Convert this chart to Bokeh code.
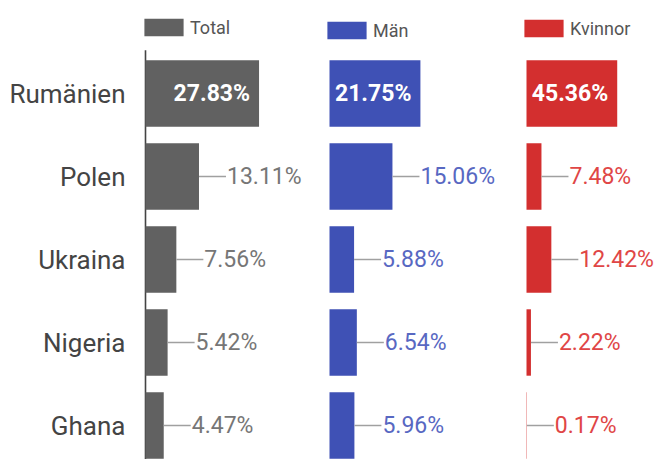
from bokeh.plotting import figure
from bokeh.models import Range1d, FixedTicker, Legend, LegendItem, ColumnDataSource
from bokeh.core.properties import value
from bokeh.embed import file_html
from bokeh.resources import INLINE

# ---- data ----
countries = ["Rumänien", "Polen", "Ukraina", "Nigeria", "Ghana"]
total = [27.83, 13.11, 7.56, 5.42, 4.47]
men = [21.75, 15.06, 5.88, 6.54, 5.96]
women = [45.36, 7.48, 12.42, 2.22, 0.17]
series_names = ["Total", "Män", "Kvinnor"]

# ---- style / layout ----
FONT = "Roboto"
W, H = 654, 459
FRAME_LEFT = 135            # canvas px where the plotting frame starts
FRAME_W = W - FRAME_LEFT
ROW_PX = 83                 # px per category row
FIRST_ROW_PX = 93           # px from frame top to first row centre
BAR_H = 0.8
AXIS_TOP = -0.52

# per panel: range name, values, bar colour, label colour, zero offset (px from frame left), px per %, legend pos
panels = [
    ("default", total, "#616161", "#767676", 10, 4.08, (4, 421)),
    ("men", men, "#3f51b5", "#5868c2", 194, 4.18, (187, 418)),
    ("women", women, "#d32f2f", "#e04646", 391, 2.0, (384, 420)),
]

def xr(zero_px, ppu):
    start = -zero_px / ppu
    return Range1d(start=start, end=start + FRAME_W / ppu)

y_end = -FIRST_ROW_PX / ROW_PX
y_start = y_end + H / ROW_PX

p = figure(width=W, height=H, output_backend="svg", toolbar_location=None,
           x_range=xr(panels[0][4], panels[0][5]),
           y_range=Range1d(start=y_start, end=y_end),
           x_axis_location=None, min_border_left=FRAME_LEFT,
           min_border_right=0, min_border_top=0, min_border_bottom=0)
p.extra_x_ranges = {name: xr(z, ppu) for (name, _, _, _, z, ppu, _) in panels[1:]}
p.outline_line_color = None
p.xgrid.grid_line_color = None
p.ygrid.grid_line_color = None
p.background_fill_color = "white"

ys = list(range(len(countries)))
yax = p.yaxis[0]
yax.ticker = FixedTicker(ticks=ys)
yax.major_label_overrides = {i: c for i, c in zip(ys, countries)}
yax.major_label_text_font = FONT
yax.major_label_text_font_size = "26px"
yax.major_label_text_color = "#444444"
yax.axis_line_color = None
yax.major_tick_line_color = None
yax.minor_tick_line_color = None
yax.major_tick_out = 0
yax.major_tick_in = 0
yax.major_label_standoff = 10

# baseline of the Total panel
p.segment(x0=[0], y0=[AXIS_TOP], x1=[0], y1=[y_start], line_color="#444444", line_width=1.6)

for (name, vals, col, lcol, z, ppu, lpos), label in zip(panels, series_names):
    src = ColumnDataSource(dict(y=ys, v=vals))
    r = p.hbar(y="y", left=0, right="v", height=BAR_H, source=src, x_range_name=name,
               fill_color=col, line_color=None)
    inside = ColumnDataSource(dict(y=ys[:1], v=vals[:1], t=[f"{v:.2f}%" for v in vals[:1]]))
    outside = ColumnDataSource(dict(y=ys[1:], v=vals[1:], t=[f"{v:.2f}%" for v in vals[1:]]))
    p.text(x="v", y="y", text="t", source=inside, x_range_name=name, x_offset=-9,
           text_align="right", text_baseline="middle", text_color="white",
           text_font=value(FONT), text_font_size="23px", text_font_style="bold")
    p.ray(x="v", y="y", length=27, length_units="screen", angle=0, source=outside,
          x_range_name=name, line_color="#a0a0a0", line_width=1.5)
    p.text(x="v", y="y", text="t", source=outside, x_range_name=name, x_offset=28,
           text_align="left", text_baseline="middle", text_color=lcol,
           text_font=value(FONT), text_font_size="23px")
    leg = Legend(items=[LegendItem(label=label, renderers=[r])], location=lpos,
                 orientation="horizontal", glyph_width=49, glyph_height=22,
                 label_height=22, label_standoff=2, padding=0, margin=0, spacing=0,
                 border_line_color=None, background_fill_alpha=0,
                 label_text_font=FONT, label_text_font_size="18px",
                 label_text_color="#555555", label_text_baseline="middle")
    p.add_layout(leg)

open("out.html", "w").write(file_html(p, INLINE))
